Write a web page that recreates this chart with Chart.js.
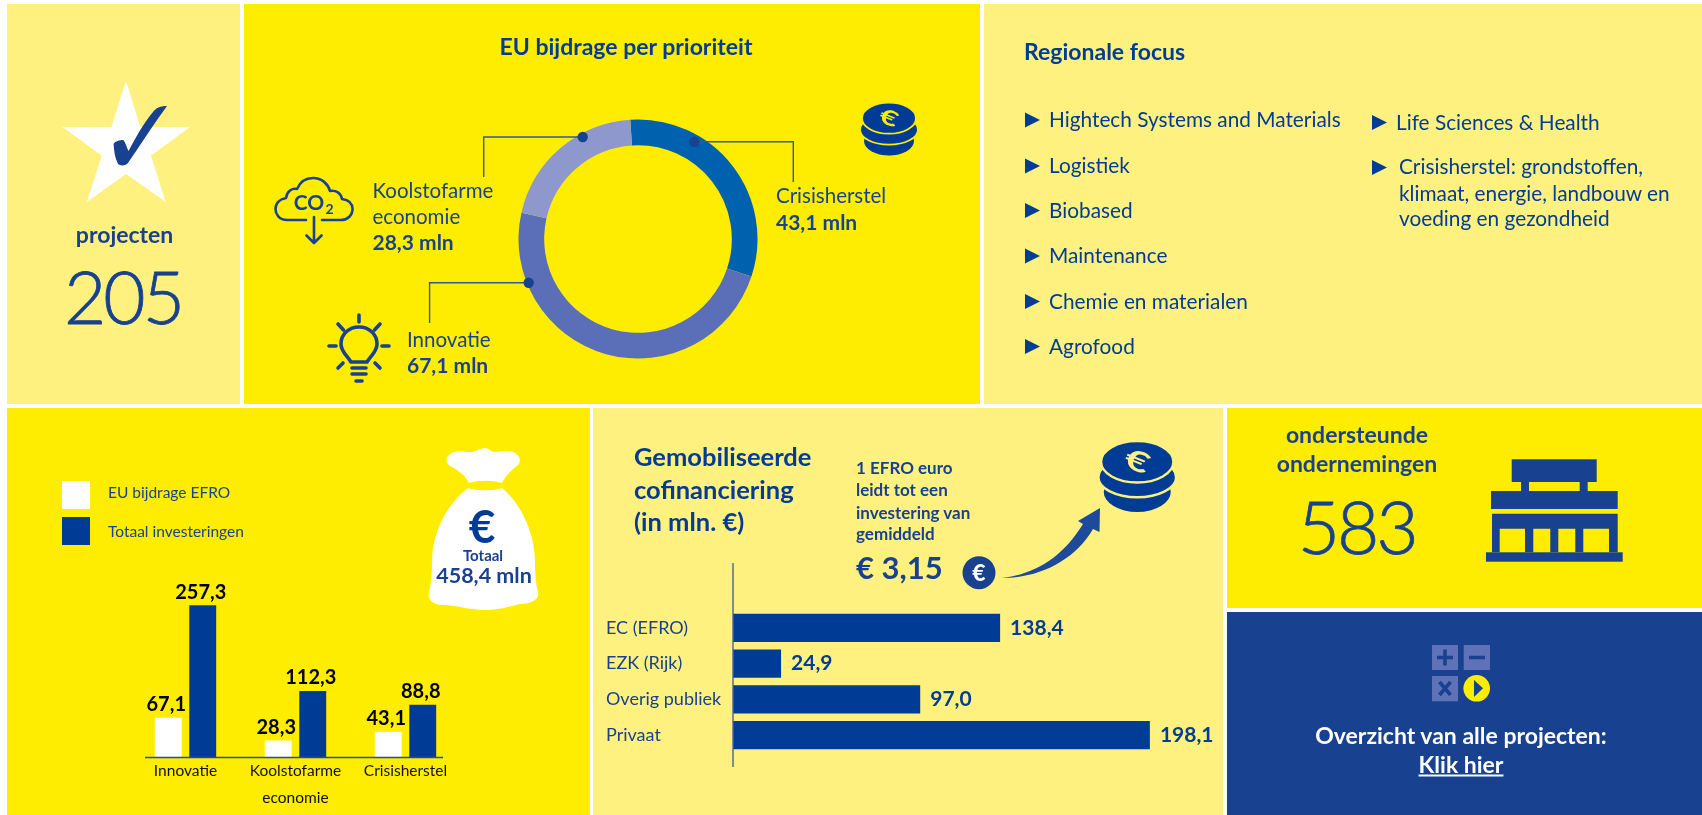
<!DOCTYPE html>
<html lang="nl">
<head>
<meta charset="utf-8">
<title>EFRO projecten</title>
<script src="https://cdn.jsdelivr.net/npm/chart.js@4"></script>
<style>
  html, body { margin: 0; background: #fff; }
  #page { position: relative; width: 1702px; height: 815px; overflow: hidden; font-family: Lato, sans-serif; color: #18418F; }
  .panel { position: absolute; }
  .yellow { background: #FFED00; }
  .light { background: #FFF17F; }
  .navy { background: #18418F; }
  .t { position: absolute; white-space: nowrap; line-height: 1; transform: translateY(-50%); }
  .c { transform: translate(-50%, -50%); }
  .b { font-weight: 700; }
  .dark { color: #003C96; }
  .big { font-size: 73px; font-weight: 300; letter-spacing: -3px; -webkit-text-stroke: 0.8px #18418F; }
  .item { font-size: 20.8px; }
  .prio { font-size: 20.5px; }
  .prio.b { font-size: 21px; }
  canvas { position: absolute; }
  svg { position: absolute; left: 0; top: 0; }
  .swatch { position: absolute; left: 62px; width: 28px; height: 28px; }
</style>
</head>
<body>
<div id="page">
  <div class="panel light" style="left:7px;top:4px;width:233px;height:400px"></div>
  <div class="panel yellow" style="left:244px;top:4px;width:736px;height:400px"></div>
  <div class="panel light" style="left:984px;top:4px;width:718px;height:400px"></div>
  <div class="panel yellow" style="left:7px;top:408px;width:583px;height:407px"></div>
  <div class="panel light" style="left:593px;top:408px;width:630px;height:407px"></div>
  <div class="panel yellow" style="left:1227px;top:408px;width:475px;height:200px"></div>
  <div class="panel navy" style="left:1227px;top:612px;width:475px;height:203px"></div>

  <canvas id="prioChart" width="260" height="260" style="left:508px;top:109px"></canvas>
  <canvas id="fundChart" width="583" height="407" style="left:7px;top:408px"></canvas>
  <canvas id="cofinChart" width="630" height="407" style="left:593px;top:408px"></canvas>

  <svg width="1702" height="815" viewBox="0 0 1702 815">
    <defs>
      <symbol id="coins" viewBox="0 0 58 53">
        <ellipse cx="29" cy="38" rx="25" ry="15" fill="#003C96"/>
        <ellipse cx="29" cy="27" rx="29" ry="15" fill="#003C96" stroke="currentColor" stroke-width="1.8"/>
        <ellipse cx="29" cy="15.5" rx="27" ry="15.5" fill="#003C96" stroke="currentColor" stroke-width="1.8"/>
        <text text-anchor="middle" y="10" font-family="Lato" font-weight="700" font-size="29" fill="currentColor" transform="translate(29 15) rotate(22) scale(1.1 .72)">€</text>
      </symbol>
    </defs>

    <!-- star + check -->
    <polygon fill="#fff" points="126,81 140.4,127 190,127 151,155.7 165.7,202 126,174 86.8,202 101.8,155.7 62.5,127 111.4,127"/>
    <path fill="#18418F" d="M167 106 C160 106 156 108 153 112 C143 124 136 137 128.6 151 C126 146 125 141 123 140 C120 140 115 141 113.6 144 C114 151 115 158 118 164 C120 166 126 166 128 163 C141 144 153 125 167 106 Z"/>

    <!-- leader lines doughnut -->
    <g fill="none" stroke="#36579C" stroke-width="1.4">
      <path d="M483.7 177 V137 H582.7"/>
      <path d="M793.3 182 V141.7 H694.3"/>
      <path d="M429.6 323 V282.7 H528.7"/>
    </g>
    <g fill="#18418F">
      <circle cx="582.7" cy="137" r="5.2"/>
      <circle cx="694.3" cy="141.7" r="5.2"/>
      <circle cx="528.7" cy="282.7" r="5.2"/>
    </g>

    <!-- CO2 cloud -->
    <g fill="none" stroke="#18418F" stroke-width="2.6" stroke-linecap="round" stroke-linejoin="round">
      <path d="M306 220 H287 C279 220 275.5 214 275.5 209 C275.5 203 280 199 286 198 C287 191 292 188 297 189 C300 182 306 178 313 178 C322 178 328 184 330 191 C336 190 341 193 342 199 C349 200 352.5 204 352.5 209 C352.5 215 348 220 341 220 H322"/>
      <path d="M314 217 V243 M306.5 235.5 L314 243 L321.5 235.5"/>
    </g>
    <text x="309" y="210" text-anchor="middle" font-family="Lato" font-weight="700" font-size="21" fill="#18418F">CO</text>
    <text x="329.5" y="214" text-anchor="middle" font-family="Lato" font-weight="700" font-size="14" fill="#18418F">2</text>

    <!-- bulb -->
    <g fill="none" stroke="#18418F" stroke-width="3.6" stroke-linecap="round" stroke-linejoin="round">
      <path d="M351 362 C347 355 341 352 341 344 C341 334 349 327 359 327 C369 327 377 334 377 344 C377 352 371 355 367 362 Z"/>
      <path d="M352 368 H366 M352 374 H366 M356 381 H362"/>
      <path d="M359 315 V322 M338 324 L343.5 330 M380 324 L374.5 330 M329 346 H336 M382 346 H389 M338 368 L343 363 M380 368 L375 363"/>
    </g>

    <use href="#coins" x="860" y="102.7" width="58" height="53" style="color:#FFED00"/>
    <use href="#coins" x="1098" y="441" width="78.5" height="71" style="color:#FFF17F"/>

    <!-- list bullets -->
    <g fill="#003C96">
      <polygon points="1025,112.5 1040,120 1025,127.5"/>
      <polygon points="1025,158.5 1040,166 1025,173.5"/>
      <polygon points="1025,203 1040,210.5 1025,218"/>
      <polygon points="1025,248.5 1040,256 1025,263.5"/>
      <polygon points="1025,294 1040,301.5 1025,309"/>
      <polygon points="1025,339 1040,346.5 1025,354"/>
      <polygon points="1372,115 1387,122.5 1372,130"/>
      <polygon points="1372,160 1387,167.5 1372,175"/>
    </g>

    <!-- money bag -->
    <g fill="#fff">
      <path d="M485 448 C480 448 476 452 471 452 C464 452 455 449 449 455 C445 459 446 463 450 466 C458 470 466 476 469 483 C478 480 492 480 502 483 C505 476 512 470 518 465 C522 461 519 454 513 452 C506 450 498 452 495 452 C491 452 489 448 485 448 Z"/>
      <path d="M468 488 C475 491 495 491 502 488 C520 503 534 530 535 560 C535 575 536 585 538 592 C540 600 530 604 520 604 C508 607 497 610 485 610 C470 610 460 606 445 605 C433 605 427 600 429 592 C431 585 432 575 432 560 C433 530 448 503 468 488 Z"/>
    </g>

    <!-- axis lines -->
    <line x1="145" y1="757.5" x2="443" y2="757.5" stroke="#1450B4" stroke-width="1.6"/>
    <line x1="733" y1="563" x2="733" y2="767" stroke="#4A6296" stroke-width="1.4"/>

    <!-- arrow and euro coin -->
    <path fill="#1E4A9C" d="M1002 578 C1035 574 1062 558 1083 524 L1078 521 L1100 508 L1099.5 532 L1093 529 C1075 560 1040 578 1002 578 Z"/>
    <circle cx="979" cy="572.7" r="16.5" fill="#18418F"/>
    <text x="979" y="581" text-anchor="middle" font-family="Lato" font-weight="900" font-size="23" fill="#fff">€</text>

    <!-- building -->
    <g fill="#18418F">
      <rect x="1511.7" y="459.3" width="85" height="22.7"/>
      <rect x="1521" y="482" width="8" height="9"/>
      <rect x="1579.7" y="482" width="8" height="9"/>
      <rect x="1491" y="491" width="126.7" height="18"/>
      <path fill-rule="evenodd" d="M1492 513.7 H1617.7 V552.3 H1492 Z M1499.7 528.7 V552.3 H1525 V528.7 Z M1533.3 528.7 V552.3 H1550.3 V528.7 Z M1558.3 528.7 V552.3 H1575.3 V528.7 Z M1583.3 528.7 V552.3 H1609 V528.7 Z"/>
      <rect x="1486" y="552.3" width="136.7" height="9.4"/>
    </g>

    <!-- calculator -->
    <g fill="#5F72B8">
      <rect x="1432" y="645" width="26" height="25"/>
      <rect x="1463.7" y="645" width="26.3" height="25"/>
      <rect x="1432" y="676" width="26" height="25.3"/>
    </g>
    <path d="M1445 649.5 V665.5 M1437 657.5 H1453 M1469 657.5 H1485 M1439.5 682 L1450.5 695 M1450.5 682 L1439.5 695" stroke="#18418F" stroke-width="3.6" fill="none"/>
    <circle cx="1476.7" cy="688.3" r="13.3" fill="#FFED00"/>
    <polygon points="1474,680 1483,688.3 1474,697" fill="#18418F"/>
  </svg>

  <!-- top left -->
  <div class="t c b" style="left:124.6px;top:234px;font-size:23px">projecten</div>
  <div class="t c big" style="left:123px;top:296px">205</div>

  <!-- prioriteit -->
  <div class="t c b dark" style="left:626px;top:46px;font-size:23px">EU bijdrage per prioriteit</div>
  <div class="t prio" style="left:372.5px;top:190px">Koolstofarme</div>
  <div class="t prio" style="left:372.5px;top:216px">economie</div>
  <div class="t prio b" style="left:372.5px;top:241px">28,3 mln</div>
  <div class="t prio" style="left:407px;top:339px">Innovatie</div>
  <div class="t prio b" style="left:407px;top:364px">67,1 mln</div>
  <div class="t prio" style="left:776px;top:195px">Crisisherstel</div>
  <div class="t prio b" style="left:776px;top:221px">43,1 mln</div>

  <!-- regionale focus -->
  <div class="t b dark" style="left:1024px;top:51px;font-size:23px">Regionale focus</div>
  <div class="t dark item" style="left:1049px;top:119px">Hightech Systems and Materials</div>
  <div class="t dark item" style="left:1049px;top:165px">Logistiek</div>
  <div class="t dark item" style="left:1049px;top:209.5px">Biobased</div>
  <div class="t dark item" style="left:1049px;top:255px">Maintenance</div>
  <div class="t dark item" style="left:1049px;top:300.5px">Chemie en materialen</div>
  <div class="t dark item" style="left:1049px;top:345.5px">Agrofood</div>
  <div class="t dark item" style="left:1396px;top:121.5px">Life Sciences &amp; Health</div>
  <div class="t dark item" style="left:1399px;top:166px">Crisisherstel: grondstoffen,</div>
  <div class="t dark item" style="left:1399px;top:192.5px">klimaat, energie, landbouw en</div>
  <div class="t dark item" style="left:1399px;top:218px">voeding en gezondheid</div>

  <!-- legend + bag -->
  <div id="fundLegend"></div>
  <div class="t c b dark" style="left:482px;top:526px;font-size:46px">€</div>
  <div class="t c b" style="left:483px;top:555px;font-size:15px">Totaal</div>
  <div class="t c b" style="left:484px;top:576px;font-size:21.5px">458,4 mln</div>

  <!-- cofinanciering -->
  <div class="t b dark" style="left:634px;top:456.5px;font-size:25.5px">Gemobiliseerde</div>
  <div class="t b dark" style="left:634px;top:490px;font-size:25.5px">cofinanciering</div>
  <div class="t b dark" style="left:634px;top:521.5px;font-size:25.5px">(in mln. €)</div>
  <div class="t b" style="left:856px;top:467px;font-size:17px">1 EFRO euro</div>
  <div class="t b" style="left:856px;top:489px;font-size:17px">leidt tot een</div>
  <div class="t b" style="left:856px;top:512px;font-size:17px">investering van</div>
  <div class="t b" style="left:856px;top:533px;font-size:17px">gemiddeld</div>
  <div class="t b" style="left:856px;top:567px;font-size:31px">€ 3,15</div>

  <!-- ondernemingen -->
  <div class="t c b" style="left:1357px;top:433.5px;font-size:23px">ondersteunde</div>
  <div class="t c b" style="left:1357px;top:463px;font-size:23px">ondernemingen</div>
  <div class="t c big" style="left:1356.7px;top:526px">583</div>

  <!-- link -->
  <div class="t c b" style="left:1461px;top:735px;font-size:23px;color:#fff">Overzicht van alle projecten:</div>
  <div class="t c b" style="left:1461px;top:764px;font-size:23px;color:#fff;text-decoration:underline">Klik hier</div>
</div>

<script>
const prioLabels = ['Crisisherstel', 'Innovatie', 'Koolstofarme economie'];
const prioValues = [43.1, 67.1, 28.3];
const prioColors = ['#0061AE', '#5A6FB7', '#8F98CC'];

const fundCategories = ['Innovatie', ['Koolstofarme', 'economie'], 'Crisisherstel'];
const efroValues = [67.1, 28.3, 43.1];
const totalValues = [257.3, 112.3, 88.8];

const cofinLabels = ['EC (EFRO)', 'EZK (Rijk)', 'Overig publiek', 'Privaat'];
const cofinValues = [138.4, 24.9, 97.0, 198.1];
// the Privaat bar is drawn longer in the original than its printed 198,1
const cofinBarLengths = [138.4, 24.9, 97.0, 216];

const FONT = 'Lato, sans-serif';
const nl = v => v.toFixed(1).replace('.', ',');

new Chart(document.getElementById('prioChart'), {
  type: 'doughnut',
  data: {
    labels: prioLabels,
    datasets: [{ data: prioValues, backgroundColor: prioColors, borderWidth: 0 }]
  },
  options: {
    responsive: false,
    animation: false,
    cutout: '78.5%',
    rotation: -3.7,
    layout: { padding: 10.5 },
    plugins: { legend: { display: false }, tooltip: { enabled: false } }
  }
});

// value labels above the grouped bars
const fundLabels = {
  id: 'fundLabels',
  afterDatasetsDraw(chart) {
    const ctx = chart.ctx;
    ctx.save();
    ctx.font = '700 20px ' + FONT;
    ctx.fillStyle = '#000';
    ctx.textAlign = 'center';
    ctx.textBaseline = 'bottom';
    chart.data.datasets.forEach((ds, i) => {
      chart.getDatasetMeta(i).data.forEach((bar, j) => {
        ctx.fillText(nl(ds.data[j]), bar.x - 2, bar.y - 3);
      });
    });
    ctx.restore();
  }
};

const fundChart = new Chart(document.getElementById('fundChart'), {
  type: 'bar',
  data: {
    labels: fundCategories,
    datasets: [
      { label: 'EU bijdrage EFRO', data: efroValues, backgroundColor: '#fff' },
      { label: 'Totaal investeringen', data: totalValues, backgroundColor: '#003C96' }
    ]
  },
  options: {
    responsive: false,
    animation: false,
    categoryPercentage: 0.627,
    barPercentage: 0.78,
    layout: { padding: { top: 172, left: 123.5, right: 129.5, bottom: 0 } },
    scales: {
      x: {
        grid: { display: false },
        border: { display: false },
        ticks: { color: '#111', padding: -7, font: { family: FONT, size: 15.5, lineHeight: 1.7 }, maxRotation: 0 },
        afterFit(scale) { scale.height = 57.7; }
      },
      y: { display: false, min: 0, max: 300 }
    },
    plugins: { legend: { display: false }, tooltip: { enabled: false } }
  },
  plugins: [fundLabels]
});

// legend built from the chart's own datasets
const legendBox = document.getElementById('fundLegend');
fundChart.data.datasets.forEach((ds, i) => {
  const swatch = document.createElement('div');
  swatch.className = 'swatch';
  swatch.style.top = (481 + i * 36) + 'px';
  swatch.style.background = ds.backgroundColor;
  legendBox.appendChild(swatch);
  const label = document.createElement('div');
  label.className = 't';
  label.style.cssText = 'left:108px;top:' + (493 + i * 39) + 'px;font-size:15.5px';
  label.textContent = ds.label;
  legendBox.appendChild(label);
});

const cofinValueLabels = {
  id: 'cofinValueLabels',
  afterDatasetsDraw(chart) {
    const ctx = chart.ctx;
    ctx.save();
    ctx.font = '700 21px ' + FONT;
    ctx.fillStyle = '#003C96';
    ctx.textAlign = 'left';
    ctx.textBaseline = 'middle';
    chart.getDatasetMeta(0).data.forEach((bar, i) => {
      ctx.fillText(nl(cofinValues[i]), bar.x + 10, bar.y);
    });
    ctx.restore();
  }
};

new Chart(document.getElementById('cofinChart'), {
  type: 'bar',
  data: {
    labels: cofinLabels,
    datasets: [{ data: cofinBarLengths, backgroundColor: '#003C96', categoryPercentage: 1, barPercentage: 0.785 }]
  },
  options: {
    responsive: false,
    animation: false,
    indexAxis: 'y',
    layout: { padding: { top: 202, bottom: 62, left: 13, right: 26.8 } },
    scales: {
      x: { display: false, min: 0, max: 240 },
      y: {
        grid: { display: false },
        border: { display: false },
        ticks: { color: '#18418F', crossAlign: 'far', padding: 0, font: { family: FONT, size: 18 } },
        afterFit(scale) { scale.width = 127; }
      }
    },
    plugins: { legend: { display: false }, tooltip: { enabled: false } }
  },
  plugins: [cofinValueLabels]
});
</script>
</body>
</html>
